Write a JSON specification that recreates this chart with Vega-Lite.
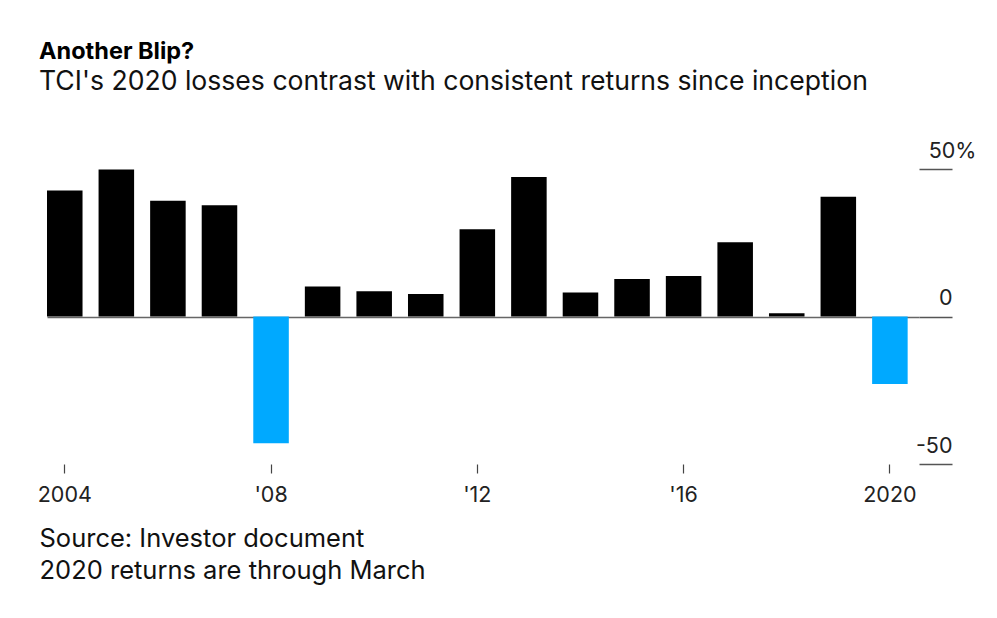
{
  "$schema": "https://vega.github.io/schema/vega-lite/v6.json",
  "width": 872,
  "height": 295,
  "autosize": {"type": "none"},
  "padding": {"left": 47, "top": 169, "right": 78, "bottom": 154},
  "background": "white",
  "title": {
    "text": "Another Blip?",
    "subtitle": "TCI's 2020 losses contrast with consistent returns since inception",
    "anchor": "start",
    "frame": "group",
    "dx": -8,
    "offset": 44,
    "font": "Inter",
    "fontSize": 23.5,
    "fontWeight": "bold",
    "color": "#000000",
    "subtitleFont": "Inter",
    "subtitleFontSize": 26.6,
    "subtitleColor": "#111111",
    "subtitlePadding": 6
  },
  "data": {
    "values": [
      {"year": "2004", "value": 42.7},
      {"year": "2005", "value": 49.8},
      {"year": "2006", "value": 39.2},
      {"year": "2007", "value": 37.7},
      {"year": "2008", "value": -43.0},
      {"year": "2009", "value": 10.2},
      {"year": "2010", "value": 8.6},
      {"year": "2011", "value": 7.6},
      {"year": "2012", "value": 29.6},
      {"year": "2013", "value": 47.3},
      {"year": "2014", "value": 8.1},
      {"year": "2015", "value": 12.7},
      {"year": "2016", "value": 13.7},
      {"year": "2017", "value": 25.2},
      {"year": "2018", "value": 1.1},
      {"year": "2019", "value": 40.6},
      {"year": "2020", "value": -22.9}
    ]
  },
  "mark": {"type": "bar"},
  "encoding": {
    "x": {
      "field": "year",
      "type": "ordinal",
      "sort": null,
      "scale": {"paddingInner": 0.311, "paddingOuter": 0.11, "align": 0, "round": false},
      "axis": {
        "values": ["2004", "2008", "2012", "2016", "2020"],
        "labelExpr": "datum.value == '2004' || datum.value == '2020' ? datum.value : \"'\" + substring(datum.value, 2)",
        "domain": false,
        "grid": false,
        "ticks": true,
        "tickSize": 9,
        "tickColor": "#444444",
        "tickWidth": 1.2,
        "labelAngle": 0,
        "labelBaseline": "alphabetic",
        "labelPadding": 28.7,
        "labelFont": "Inter",
        "labelFontSize": 21.5,
        "labelColor": "#222222",
        "title": ["Source: Investor document", "2020 returns are through March"],
        "titleFont": "Inter",
        "titleFontSize": 25.5,
        "titleFontWeight": "normal",
        "titleColor": "#111111",
        "titleAnchor": "start",
        "titleAlign": "left",
        "titleBaseline": "alphabetic",
        "titleLineHeight": 31.6,
        "titleX": -8,
        "titleY": 82.7
      }
    },
    "y": {
      "field": "value",
      "type": "quantitative",
      "scale": {"domain": [-50, 50], "nice": false, "zero": true},
      "axis": {
        "orient": "right",
        "values": [-50, 0, 50],
        "domain": false,
        "grid": true,
        "gridColor": "#666666",
        "gridWidth": 1.5,
        "gridOpacity": {"condition": {"test": "datum.value === 0", "value": 1}, "value": 0},
        "tickSize": 33,
        "tickColor": "#555555",
        "tickWidth": 1.5,
        "labelExpr": "datum.value === 50 ? '50%' : '' + datum.value",
        "labelAlign": {"condition": {"test": "datum.value === 50", "value": "center"}, "value": "right"},
        "labelBaseline": "alphabetic",
        "labelPadding": 0,
        "labelOffset": -12,
        "labelFont": "Inter",
        "labelFontSize": 21.5,
        "labelColor": "#222222",
        "title": null
      }
    },
    "color": {"condition": {"test": "datum.value < 0", "value": "#00A9FF"}, "value": "#000000"}
  },
  "config": {"view": {"stroke": null}}
}
